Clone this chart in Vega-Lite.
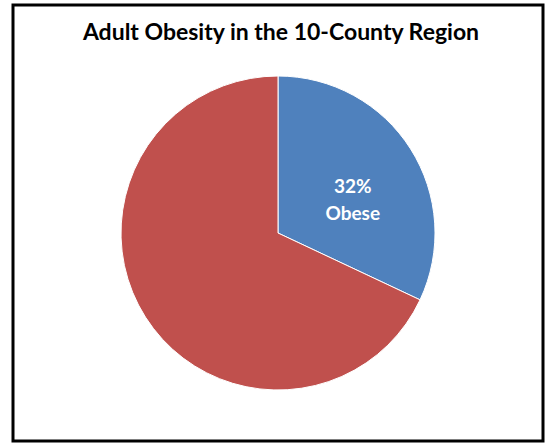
{
  "$schema": "https://vega.github.io/schema/vega-lite/v6.json",
  "width": 530,
  "height": 436,
  "autosize": {"type": "none"},
  "padding": {"left": 13, "top": 5, "right": 7, "bottom": 3},
  "background": "white",
  "view": {"stroke": "black", "strokeWidth": 3, "fill": "white"},
  "config": {
    "view": {"stroke": "black", "strokeWidth": 3},
    "font": "Lato"
  },
  "title": {
    "text": "Adult Obesity in the 10-County Region",
    "font": "Lato",
    "fontSize": 23,
    "fontWeight": "bold",
    "color": "black",
    "orient": "top",
    "anchor": "middle",
    "frame": "group",
    "offset": -40,
    "dx": 3
  },
  "data": {
    "values": [
      {"category": "Obese", "percent": 32, "order": 1, "label": "32%\nObese"},
      {"category": "Not obese", "percent": 68, "order": 2, "label": ""}
    ]
  },
  "encoding": {
    "theta": {"field": "percent", "type": "quantitative", "stack": true},
    "order": {"field": "order", "type": "quantitative"}
  },
  "layer": [
    {
      "mark": {"type": "arc", "radius": 157, "yOffset": 10, "stroke": "white", "strokeWidth": 1},
      "encoding": {
        "color": {
          "field": "category",
          "type": "nominal",
          "scale": {"domain": ["Obese", "Not obese"], "range": ["#4F81BD", "#C0504D"]},
          "legend": null
        }
      }
    },
    {
      "mark": {
        "type": "text",
        "radius": 85,
        "yOffset": 10,
        "dx": 3,
        "dy": 0,
        "lineBreak": "\n",
        "lineHeight": 27,
        "fontSize": 19,
        "fontWeight": "bold",
        "font": "Lato",
        "color": "white",
        "align": "center",
        "baseline": "middle"
      },
      "encoding": {
        "text": {"field": "label", "type": "nominal"}
      }
    }
  ]
}
